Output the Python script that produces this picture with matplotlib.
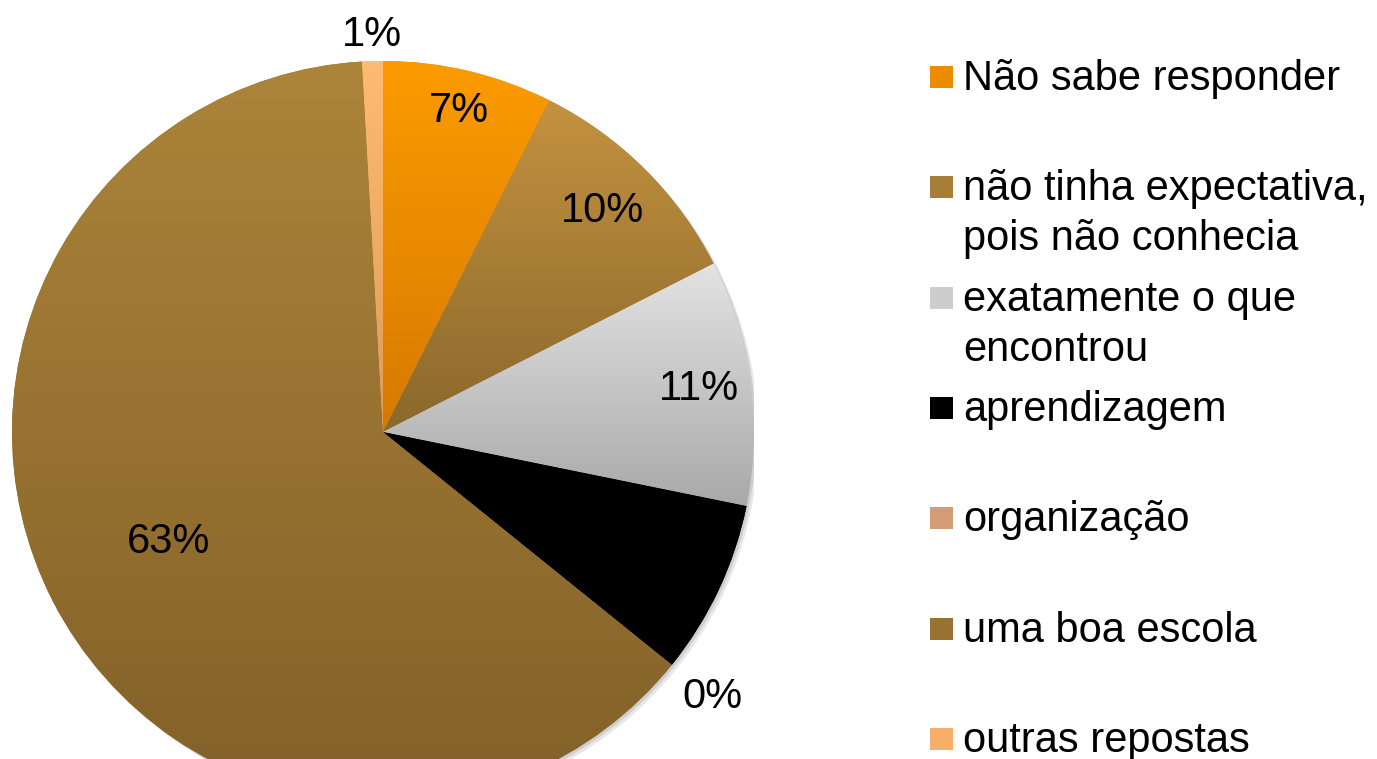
import matplotlib
matplotlib.use("Agg")
import matplotlib.pyplot as plt
import numpy as np
from matplotlib.colors import LinearSegmentedColormap
from matplotlib.patches import Rectangle, Circle

# data (percent, clockwise from 12 o'clock)
labels = ["Não sabe responder",
          "não tinha expectativa,\npois não conhecia",
          "exatamente o que\nencontrou",
          "aprendizagem",
          "organização",
          "uma boa escola",
          "outras repostas"]
values = [7.4, 10.1, 10.7, 7.6, 0.0, 63.3, 0.9]
pct_labels = ["7%", "10%", "11%", "8%", "0%", "63%", "1%"]

# gradient colours (top, bottom) for each slice
top_colors = ["#FC9B00", "#C4923F", "#E3E3E3", "#000000", "#E9AE85", "#AC843A", "#FFBB72"]
bottom_colors = ["#D67A00", "#8A682C", "#A9A9A9", "#000000", "#B88860", "#826028", "#E09A55"]
legend_colors = ["#EC8C00", "#A77E38", "#CDCDCD", "#000000", "#D29C74", "#987232", "#F7AE68"]

plt.rcParams['font.family'] = ['Liberation Sans', 'DejaVu Sans']
FS = 30

W, H = 1377, 759
fig = plt.figure(figsize=(W / 100, H / 100), dpi=100)

# pie centre (383, 432) px, radius 371 px
cx, cy, r = 383, 432, 371
ax = fig.add_axes([(cx - r) / W, (H - cy - r) / H, 2 * r / W, 2 * r / H])

# soft shadow
ax.add_patch(Circle((0.012, -0.012), 1.0, color="#bdbdbd", alpha=0.35, zorder=0, lw=0))
ax.add_patch(Circle((0.006, -0.006), 1.0, color="#a0a0a0", alpha=0.35, zorder=0, lw=0))

wedges, _ = ax.pie(values, startangle=90, counterclock=False, radius=1,
                   colors=legend_colors, wedgeprops=dict(linewidth=0))

for w, ct, cb in zip(wedges, top_colors, bottom_colors):
    w.set_zorder(1)
    verts = w.get_path().transformed(w.get_patch_transform()).vertices
    x0, x1 = verts[:, 0].min(), verts[:, 0].max()
    y0, y1 = verts[:, 1].min(), verts[:, 1].max()
    if x1 - x0 < 1e-6:
        continue
    cmap = LinearSegmentedColormap.from_list("g", [cb, ct])
    grad = np.linspace(0, 1, 256).reshape(-1, 1)
    im = ax.imshow(grad, extent=[x0, x1, y0, y1], origin="lower", cmap=cmap,
                   aspect="auto", interpolation="bilinear", zorder=2)
    im.set_clip_path(w)

# percentage labels, radial distance per slice
label_r = [0.89, 0.84, 0.86, 0.85, 1.14, 0.65, 1.07]
for w, txt, lr in zip(wedges, pct_labels, label_r):
    ang = np.deg2rad((w.theta1 + w.theta2) / 2)
    ax.text(lr * np.cos(ang), lr * np.sin(ang), txt, fontsize=FS,
            ha="center", va="center", color="black", zorder=5)

ax.set_xlim(-1, 1)
ax.set_ylim(-1, 1)
ax.axis("off")

# legend drawn by hand (first-line baselines in px from top)
for i, (lab, col) in enumerate(zip(labels, legend_colors)):
    base = 90 + 110.3 * i
    fig.add_artist(Rectangle((930 / W, (H - base + 2) / H), 23 / W, 22 / H,
                             transform=fig.transFigure, color=col, lw=0))
    for k, line in enumerate(lab.split("\n")):
        fig.text(963 / W, (H - base - 50 * k) / H, line, fontsize=FS,
                 ha="left", va="baseline")

plt.savefig("out.png", dpi=100)
